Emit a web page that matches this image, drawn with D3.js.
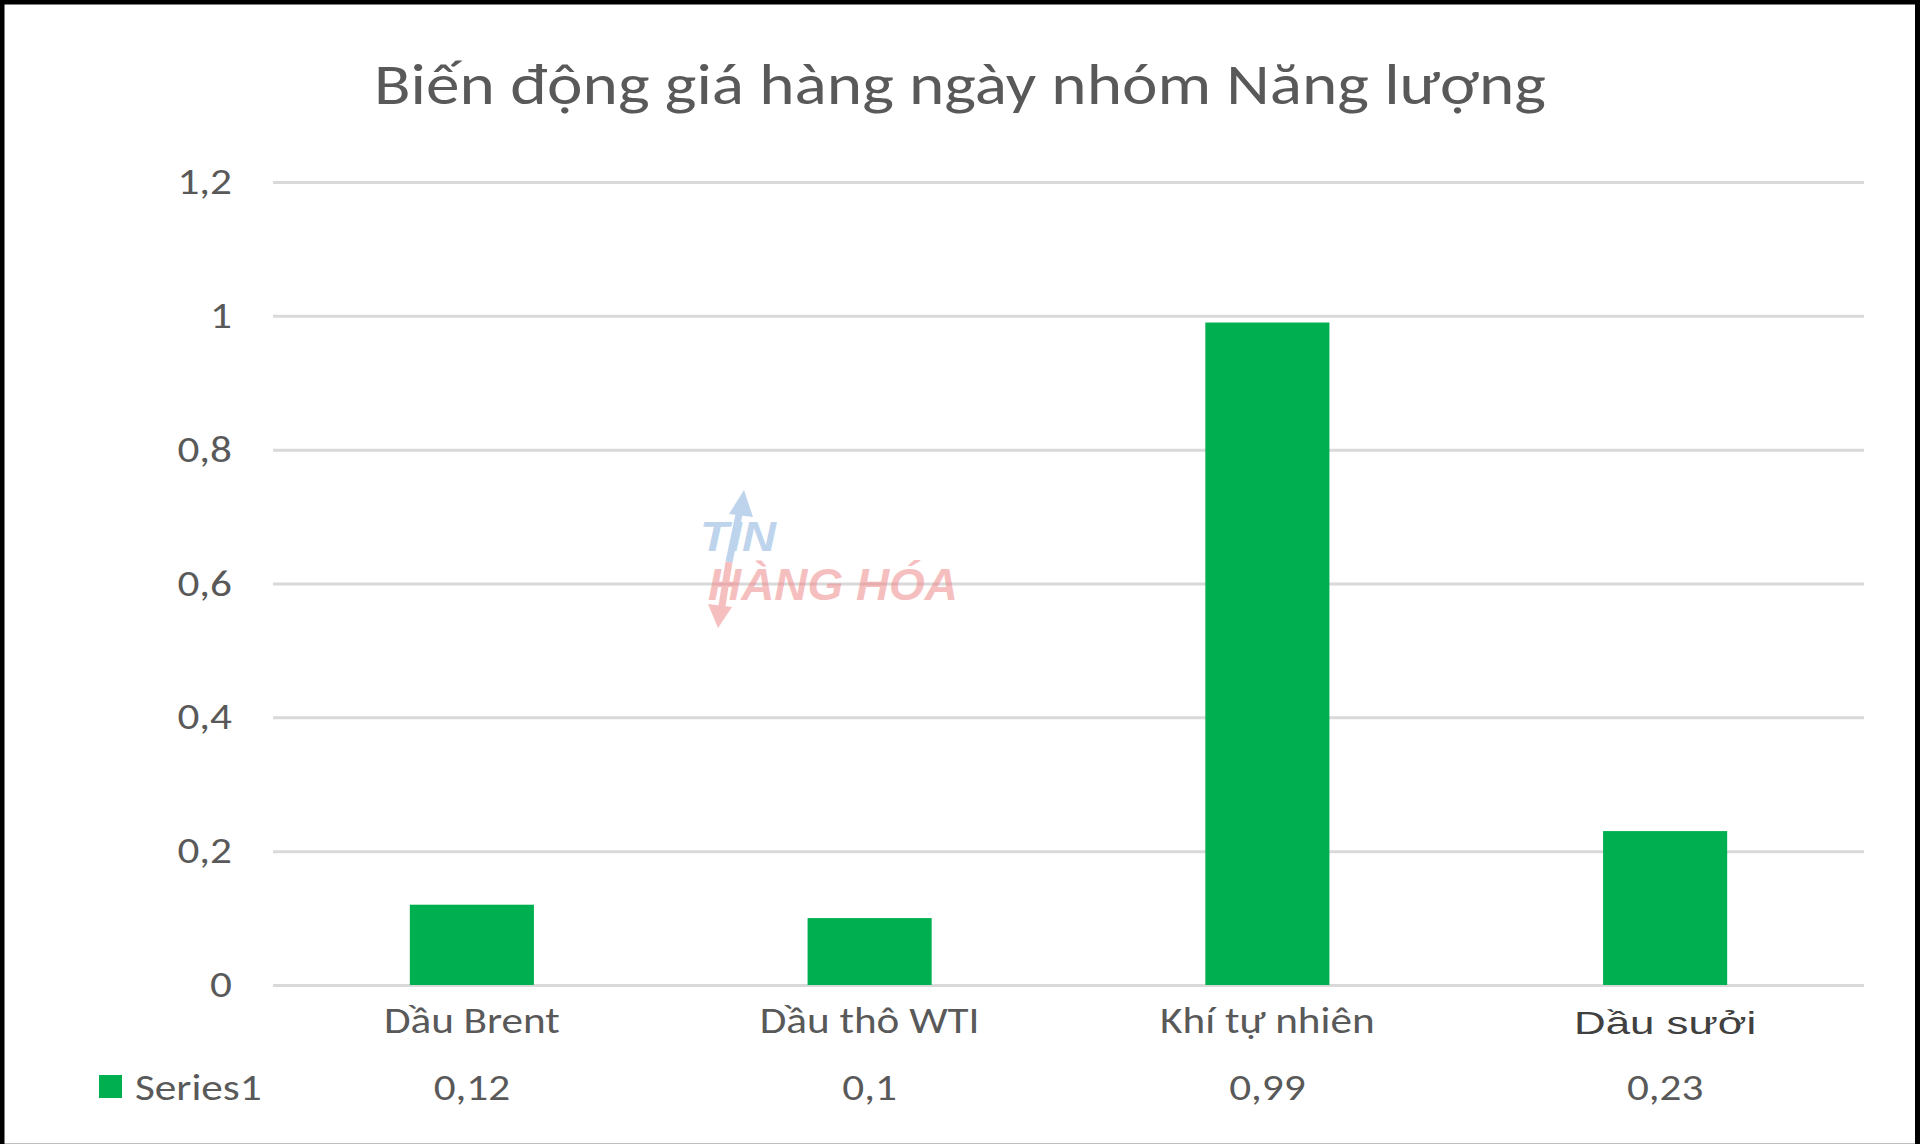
<!DOCTYPE html>
<html>
<head>
<meta charset="utf-8">
<script src="https://cdn.jsdelivr.net/npm/d3@7"></script>
<style>
  html, body { margin: 0; padding: 0; background: #fff; }
  svg { display: block; }
</style>
</head>
<body>
<svg id="chart" width="1920" height="1144"></svg>
<script>
// ---- data ----
const title = "Biến động giá hàng ngày nhóm Năng lượng";
const categories = ["Dầu Brent", "Dầu thô WTI", "Khí tự nhiên", "Dầu sưởi"];
const values = [0.12, 0.1, 0.99, 0.23];
const seriesName = "Series1";
const yTicks = [0, 0.2, 0.4, 0.6, 0.8, 1, 1.2];

// ---- layout ----
const W = 1920, H = 1144;
const plot = { left: 273, right: 1864, top: 182, bottom: 985 };
const FONT = "Carlito, Lato, 'Open Sans', sans-serif";
const SX = 1.2;            // horizontal stretch of the source image
const textCol = "#595959";
const barCol = "#00B050";
const gridCol = "#d9d9d9";

const svg = d3.select("#chart");

// background & frame
svg.append("rect").attr("x", 0).attr("y", 0).attr("width", W).attr("height", H).attr("fill", "#fff");
svg.append("line").attr("x1", 0).attr("x2", W).attr("y1", 1143.5).attr("y2", 1143.5).attr("stroke", "#bfbfbf").attr("stroke-width", 1);
svg.append("rect").attr("x", 0).attr("y", 0).attr("width", W).attr("height", 4.5).attr("fill", "#000");
svg.append("rect").attr("x", 0).attr("y", 0).attr("width", 4.5).attr("height", H).attr("fill", "#000");
svg.append("rect").attr("x", W - 5).attr("y", 0).attr("width", 5).attr("height", H).attr("fill", "#000");

const fmt = v => d3.format("")(v).replace(".", ",");

const x = d3.scaleBand().domain(categories).range([plot.left, plot.right])
  .paddingInner(0.688).paddingOuter(0.344);
const y = d3.scaleLinear().domain([0, 1.2]).range([plot.bottom, plot.top]);

function stretchedText(g, tx, ty, txt, opts) {
  const t = g.append("text")
    .attr("transform", `translate(${tx},${ty}) scale(${opts.sx || SX},1)`)
    .attr("text-anchor", opts.anchor || "middle")
    .attr("font-family", opts.font || FONT)
    .attr("font-size", opts.size)
    .attr("fill", opts.fill || textCol)
    .text(txt);
  if (opts.weight) t.attr("font-weight", opts.weight);
  return t;
}

// title
stretchedText(svg, W / 2, 104, title, { size: 57, sx: 1.18 });

// gridlines via axis
const yAxis = d3.axisLeft(y).tickValues(yTicks).tickSize(-(plot.right - plot.left)).tickFormat("");
const gy = svg.append("g").attr("transform", `translate(${plot.left},0)`).call(yAxis);
gy.select(".domain").remove();
gy.selectAll(".tick line").attr("stroke", gridCol).attr("stroke-width", 3);

// y tick labels
const gl = svg.append("g");
yTicks.forEach(t => {
  stretchedText(gl, 232, y(t) + 12, fmt(t), { size: 36, anchor: "end" });
});

// watermark
const wm = svg.append("g").attr("opacity", 0.5);
const wmFont = "'Liberation Sans', Arial, sans-serif";
wm.append("line").attr("x1", 741).attr("y1", 505).attr("x2", 729).attr("y2", 562)
  .attr("stroke", "#7faadc").attr("stroke-width", 7);
wm.append("path").attr("d", "M744,490 L729,514 L753,517 Z").attr("fill", "#7faadc");
wm.append("line").attr("x1", 729).attr("y1", 562).attr("x2", 721).attr("y2", 612)
  .attr("stroke", "#ef8080").attr("stroke-width", 7);
wm.append("path").attr("d", "M718,628 L708,604 L732,607 Z").attr("fill", "#ef8080");
wm.append("text").attr("x", 700).attr("y", 551).attr("font-family", wmFont)
  .attr("font-size", 42).attr("font-style", "italic").attr("font-weight", "bold").attr("fill", "#7faadc")
  .attr("textLength", 76).attr("lengthAdjust", "spacingAndGlyphs").text("TIN");
wm.append("text").attr("x", 708).attr("y", 600).attr("font-family", wmFont)
  .attr("font-size", 44).attr("font-style", "italic").attr("font-weight", "bold").attr("fill", "#ef8080")
  .attr("textLength", 250).attr("lengthAdjust", "spacingAndGlyphs").text("HÀNG HÓA");

// bars
svg.append("g").selectAll("rect").data(values).join("rect")
  .attr("x", (d, i) => x(categories[i]))
  .attr("y", d => y(d))
  .attr("width", x.bandwidth())
  .attr("height", d => y(0) - y(d))
  .attr("fill", barCol);

// category labels
const gc = svg.append("g");
categories.forEach((c, i) => {
  const cx = x(c) + x.bandwidth() / 2;
  if (i === 3) {
    stretchedText(gc, cx, 1034, c, { size: 32, font: "'Liberation Sans', Arial, sans-serif", fill: "#404040", sx: 1.37 });
  } else {
    stretchedText(gc, cx, 1033, c, { size: 36 });
  }
  stretchedText(gc, cx, 1100, fmt(values[i]), { size: 36 });
});

// legend key
svg.append("rect").attr("x", 99).attr("y", 1075).attr("width", 23).attr("height", 23).attr("fill", barCol);
stretchedText(svg, 135, 1100, seriesName, { size: 36, anchor: "start" });
</script>
</body>
</html>
